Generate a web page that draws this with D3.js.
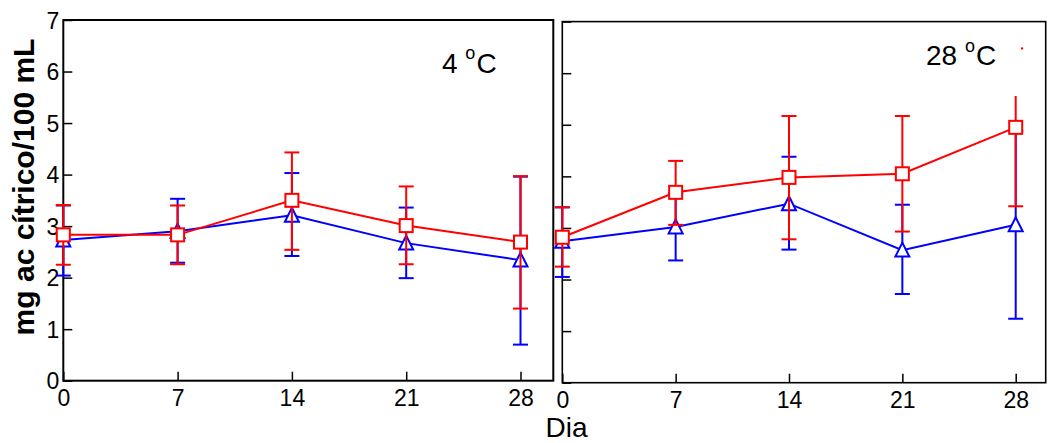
<!DOCTYPE html>
<html>
<head>
<meta charset="utf-8">
<script src="https://cdn.jsdelivr.net/npm/d3@7"></script>
<style>
  html, body { margin: 0; padding: 0; background: #fff; }
  svg { display: block; font-family: "Liberation Sans", Arial, Helvetica, sans-serif; }
</style>
</head>
<body>
<svg id="chart" width="1048" height="443"></svg>
<script>
// ---- data ----
const days = [0, 7, 14, 21, 28];
const xTicks = [0, 7, 14, 21, 28];
const yTicks = [0, 1, 2, 3, 4, 5, 6, 7];

// 4 °C panel
const red4   = [2.83, 2.83, 3.50, 3.01, 2.69];
const red4Lo = [2.25, 2.26, 2.54, 2.26, 1.40];
const red4Hi = [3.41, 3.40, 4.43, 3.77, 3.97];
const blue4   = [2.73, 2.90, 3.21, 2.67, 2.34];
const blue4Lo = [2.04, 2.29, 2.42, 1.99, 0.70];
const blue4Hi = [3.40, 3.53, 4.03, 3.36, 3.96];

// 28 °C panel
const red28   = [2.82, 3.69, 3.98, 4.05, 4.95];
const red28Lo = [2.25, 3.06, 2.78, 2.93, 3.42];
const red28Hi = [3.40, 4.30, 5.17, 5.17, 6.48];
const blue28   = [2.74, 3.02, 3.47, 2.57, 3.06];
const blue28Lo = [2.05, 2.37, 2.58, 1.72, 1.24];
const blue28Hi = [3.40, 3.67, 4.38, 3.45, 4.88];

const yTitle = "mg ac cítrico/100 mL";
const xTitle = "Dia";
const panelLabels = ["4", "28"];

// ---- layout ----
const svg = d3.select("#chart");
const RED = "#ff0000", BLUE = "#0000ff";

const panels = [
  { x0: 63.3, x28: 520.5, right: 553.3, yBot: 380.7, yTop: 20, showY: true,
    red: red4, redLo: red4Lo, redHi: red4Hi, blue: blue4, blueLo: blue4Lo, blueHi: blue4Hi,
    label: panelLabels[0], labelX: 442, labelY: 72.7, frameW: 2, box: null },
  { x0: 562.3, x28: 1015.7, right: 1045.7, yBot: 382.7, yTop: 21.6, showY: false,
    red: red28, redLo: red28Lo, redHi: red28Hi, blue: blue28, blueLo: blue28Lo, blueHi: blue28Hi,
    label: panelLabels[1], labelX: 926, labelY: 65, frameW: 1.6, box: [912, 28, 1021, 96] }
];

function toRows(v, lo, hi) {
  return days.map((d, i) => ({ d, v: v[i], lo: lo[i], hi: hi[i] }));
}

panels.forEach(p => {
  const x = d3.scaleLinear().domain([0, 28]).range([p.x0, p.x28]);
  const y = d3.scaleLinear().domain([0, 7]).range([p.yBot, p.yTop]);
  const g = svg.append("g");

  // axes (inward ticks)
  const xa = g.append("g").attr("transform", `translate(0,${p.yBot})`)
    .call(d3.axisBottom(x).tickValues(xTicks).tickSize(-9).tickPadding(9).tickFormat(d3.format("d")));
  xa.select(".domain").remove();
  xa.selectAll("line").attr("stroke", "#000").attr("stroke-width", 1.5);
  xa.selectAll("text").attr("font-size", 23).attr("fill", "#000").attr("font-family", null);

  const ya = g.append("g").attr("transform", `translate(${p.x0},0)`)
    .call(d3.axisLeft(y).tickValues(yTicks).tickSize(-9).tickPadding(4).tickFormat(d3.format("d")));
  ya.select(".domain").remove();
  ya.selectAll("line").attr("stroke", "#000").attr("stroke-width", 1.5);
  ya.selectAll("text").attr("font-size", 23).attr("fill", "#000").attr("font-family", null)
    .attr("dy", "0.36em");
  if (!p.showY) ya.selectAll("text").remove();

  // frame
  g.append("rect")
    .attr("x", p.x0).attr("y", p.yTop)
    .attr("width", p.right - p.x0).attr("height", p.yBot - p.yTop)
    .attr("fill", "none").attr("stroke", "#000").attr("stroke-width", p.frameW);

  const line = d3.line().x(r => x(r.d)).y(r => y(r.v));
  const cap = 7.5;

  function series(rows, color, marker) {
    const s = g.append("g");
    // error bars
    const eb = s.append("g").attr("stroke", color).attr("stroke-width", 2).attr("fill", "none");
    rows.forEach(r => {
      eb.append("line").attr("x1", x(r.d)).attr("x2", x(r.d)).attr("y1", y(r.lo)).attr("y2", y(r.hi));
      eb.append("line").attr("x1", x(r.d) - cap).attr("x2", x(r.d) + cap).attr("y1", y(r.lo)).attr("y2", y(r.lo));
      eb.append("line").attr("x1", x(r.d) - cap).attr("x2", x(r.d) + cap).attr("y1", y(r.hi)).attr("y2", y(r.hi));
    });
    s.append("path").datum(rows).attr("d", line)
      .attr("fill", "none").attr("stroke", color).attr("stroke-width", 2);
    if (marker === "square") {
      s.selectAll("rect.m").data(rows).join("rect").attr("class", "m")
        .attr("x", r => x(r.d) - 6.5).attr("y", r => y(r.v) - 6.5)
        .attr("width", 13).attr("height", 13)
        .attr("fill", "#fff").attr("stroke", color).attr("stroke-width", 2);
    } else {
      s.selectAll("path.m").data(rows).join("path").attr("class", "m")
        .attr("d", r => {
          const cx = x(r.d), cy = y(r.v);
          return `M${cx},${cy - 7.5}L${cx + 7},${cy + 6.5}L${cx - 7},${cy + 6.5}Z`;
        })
        .attr("fill", "#fff").attr("stroke", color).attr("stroke-width", 2)
        .attr("stroke-linejoin", "miter");
    }
  }

  series(toRows(p.blue, p.blueLo, p.blueHi), BLUE, "triangle");
  series(toRows(p.red, p.redLo, p.redHi), RED, "square");

  // label with white background box
  if (p.box) {
    g.append("rect").attr("x", p.box[0]).attr("y", p.box[1])
      .attr("width", p.box[2] - p.box[0]).attr("height", p.box[3] - p.box[1])
      .attr("fill", "#fff");
  }
  const t = g.append("text").attr("x", p.labelX).attr("y", p.labelY)
    .attr("font-size", 28).attr("fill", "#000");
  t.append("tspan").text(p.label + " ");
  t.append("tspan").attr("font-size", 18).attr("dy", -13.5).text("o");
  t.append("tspan").attr("dy", 13.5).attr("dx", 1).text("C");
});

// axis titles
svg.append("text")
  .attr("transform", "translate(34,187) rotate(-90)")
  .attr("text-anchor", "middle")
  .attr("font-size", 30).attr("font-weight", "bold").attr("fill", "#000")
  .text(yTitle);

svg.append("text")
  .attr("x", 566.5).attr("y", 437.3)
  .attr("text-anchor", "middle")
  .attr("font-size", 28).attr("fill", "#000")
  .text(xTitle);
</script>
</body>
</html>
